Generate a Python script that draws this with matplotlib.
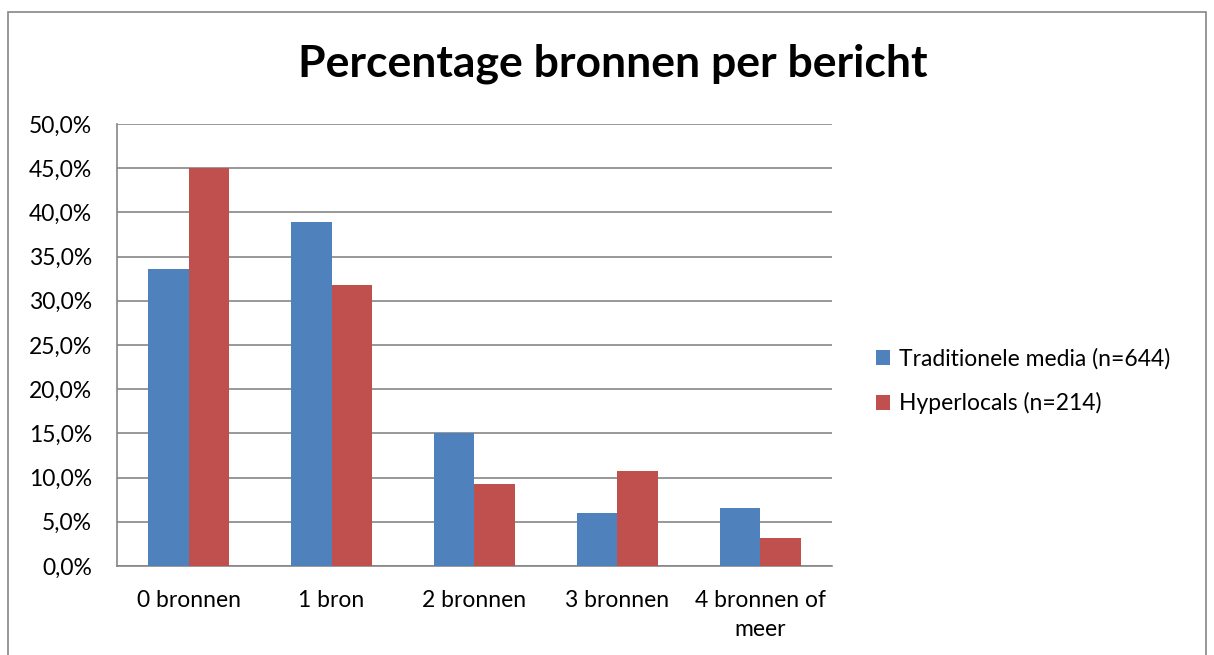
import numpy as np
import matplotlib
matplotlib.use('Agg')
import matplotlib.pyplot as plt
from matplotlib.patches import Rectangle
from matplotlib.ticker import FuncFormatter, MultipleLocator

plt.rcParams['font.family'] = ['Lato', 'DejaVu Sans']

# data
categories = ['0 bronnen', '1 bron', '2 bronnen', '3 bronnen', '4 bronnen of\nmeer']
traditioneel = [33.6, 38.9, 15.0, 6.0, 6.5]
hyperlocals = [45.0, 31.8, 9.3, 10.7, 3.2]
series_names = ['Traditionele media (n=644)', 'Hyperlocals (n=214)']
colors = ['#4F81BD', '#C0504D']

fs = 16.5

fig = plt.figure(figsize=(12.14, 6.55), dpi=100)
ax = fig.add_axes([0.0964, 0.136, 0.5889, 0.6747])

x = np.arange(len(categories))
w = 0.2857
ax.bar(x - w / 2, traditioneel, w, color=colors[0], label=series_names[0], zorder=3)
ax.bar(x + w / 2, hyperlocals, w, color=colors[1], label=series_names[1], zorder=3)

ax.set_xlim(-0.5, len(categories) - 0.5)
ax.set_ylim(0, 50)
ax.yaxis.set_major_locator(MultipleLocator(5))
ax.yaxis.set_major_formatter(FuncFormatter(lambda v, p: f'{v:.1f}%'.replace('.', ',')))
ax.grid(axis='y', color='#868686', linewidth=1.2, zorder=0)
ax.set_xticks(x)
ax.set_xticklabels(categories, fontsize=fs, linespacing=1.5)

for s in ['top', 'right']:
    ax.spines[s].set_visible(False)
for s in ['left', 'bottom']:
    ax.spines[s].set_color('#868686')
    ax.spines[s].set_linewidth(1.2)
ax.tick_params(axis='y', labelsize=fs, length=0, pad=18)
ax.tick_params(axis='x', length=0, pad=17)

fig.text(0.505, 0.902, 'Percentage bronnen per bericht', ha='center', va='center',
         fontsize=32, fontweight='bold')

ax.legend(loc='center left', bbox_to_anchor=(0.714, 0.418), bbox_transform=fig.transFigure,
          frameon=False, fontsize=fs, handlelength=0.6, handleheight=0.6,
          handletextpad=0.4, labelspacing=1.0, borderaxespad=0)

# outer chart border
fig.patches.append(Rectangle((8 / 1214, -0.1), 1198 / 1214, 1.1 - 12 / 655,
                             transform=fig.transFigure, fill=False,
                             edgecolor='#868686', linewidth=1.2))

fig.savefig('out.png', dpi=100)
